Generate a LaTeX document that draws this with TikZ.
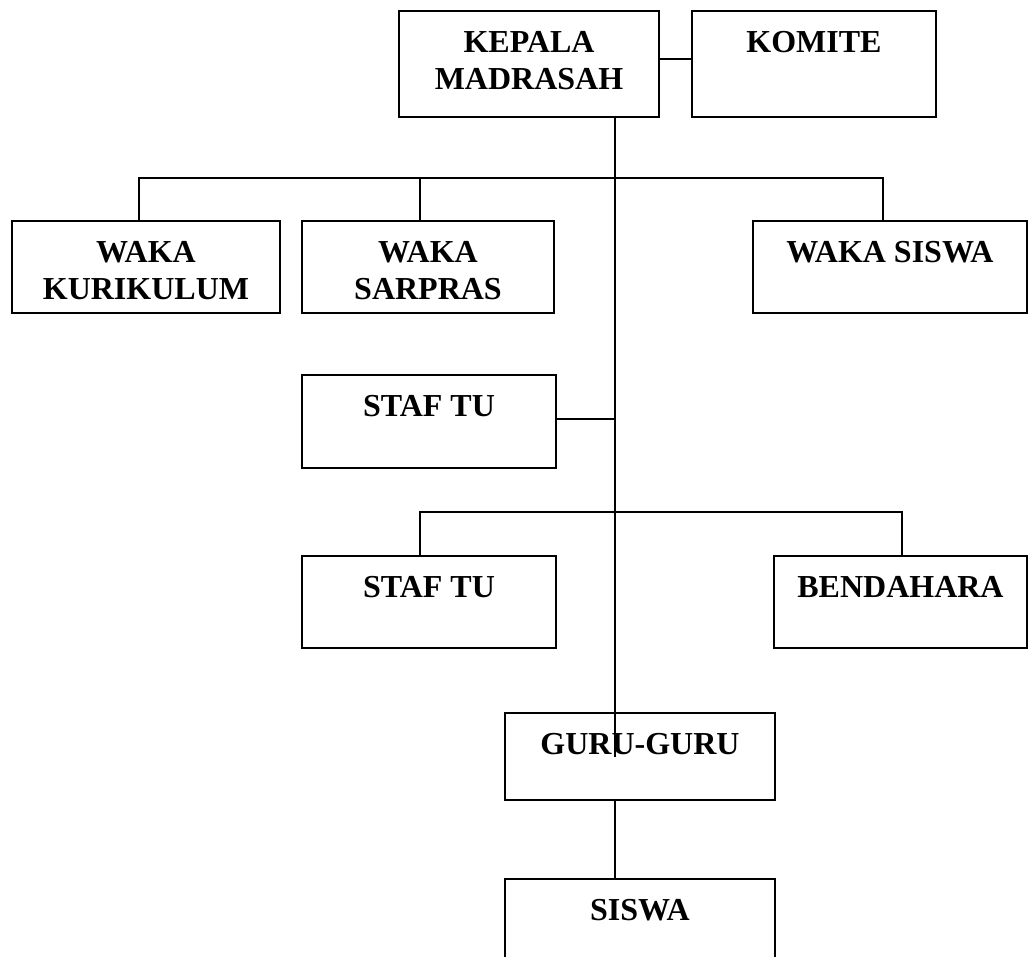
\documentclass[tikz,border=0pt]{standalone}
\usepackage{fontspec}
\setmainfont{Liberation Serif}
\begin{document}
\begin{tikzpicture}[x=0.5pt,y=-0.5pt,
  box/.style={draw, line width=1pt, inner sep=0pt, outer sep=0pt},
  lbl/.style={label={[anchor=north, yshift=-10pt, inner sep=0pt, align=center,
     font=\bfseries\fontsize{16}{18.5}\selectfont]north:#1}},
  conn/.style={line width=0.8pt}]
\useasboundingbox (0,0) rectangle (1029,957);
% boxes
\node[box, minimum width=130pt, minimum height=53pt, lbl={KEPALA\\MADRASAH}] (kepala) at (529,64) {};
\node[box, minimum width=122pt, minimum height=53pt, lbl={KOMITE}] (komite) at (814,64) {};
\node[box, minimum width=134pt, minimum height=46pt, lbl={WAKA\\KURIKULUM}] (kurikulum) at (146,267) {};
\node[box, minimum width=126pt, minimum height=46pt, lbl={WAKA\\SARPRAS}] (sarpras) at (428,267) {};
\node[box, minimum width=137pt, minimum height=46pt, lbl={WAKA SISWA}] (wakasiswa) at (890,267) {};
\node[box, minimum width=127pt, minimum height=46.5pt, lbl={STAF TU}] (staf1) at (429,421.5) {};
\node[box, minimum width=127pt, minimum height=46pt, lbl={STAF TU}] (staf2) at (429,602) {};
\node[box, minimum width=126.5pt, minimum height=46pt, lbl={BENDAHARA}] (bendahara) at (900.5,602) {};
\node[box, minimum width=135pt, minimum height=43.5pt, lbl={GURU-GURU}] (guru) at (640,756.5) {};
\node[box, minimum width=135pt, minimum height=46pt, lbl={SISWA}] (siswa) at (640,925) {};
% junction points
\coordinate (b1) at (615,178);
\coordinate (b2) at (615,419);
\coordinate (b3) at (615,512);
\coordinate (tend) at (615,757);
% connectors
\draw[conn] (kepala.east |- 0,59) -- (komite.west |- 0,59);
\draw[conn] (kepala.south -| b1) -- (tend);
\draw[conn] (kurikulum.north -| 139,0) -- (139,178) -- (883,178) -- (wakasiswa.north -| 883,0);
\draw[conn] (sarpras.north -| 420,0) -- (420,178);
\draw[conn] (staf1.east |- b2) -- (b2);
\draw[conn] (staf2.north -| 420,0) -- (420,512) -- (902,512) -- (bendahara.north -| 902,0);
\draw[conn] (guru.south -| b1) -- (siswa.north -| b1);
\end{tikzpicture}
\end{document}
